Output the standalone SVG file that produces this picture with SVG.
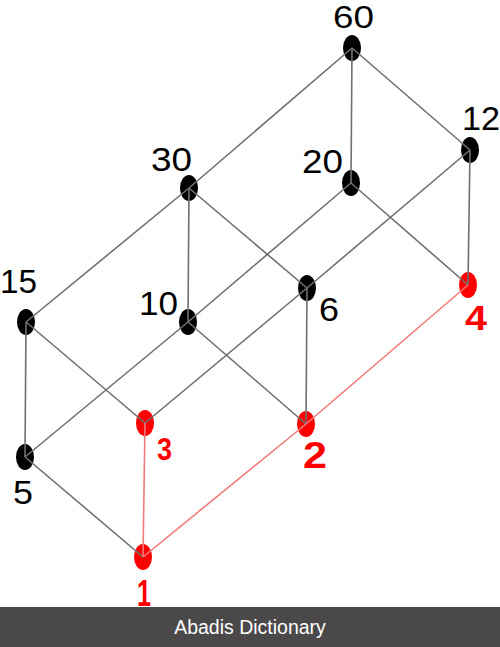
<svg xmlns="http://www.w3.org/2000/svg" width="500" height="647" viewBox="0 0 500 647">
<style>
.n{fill:#000}
.r{fill:#ff0000}
.e{stroke:#707070;stroke-width:1.6;fill:none}
.re{stroke:#f27a7a;stroke-width:1.6;fill:none}
.t{font-family:"Liberation Sans",Arial,sans-serif;font-size:33px;fill:#000}
.rt{font-family:"Liberation Sans",Arial,sans-serif;font-size:34px;font-weight:bold;fill:#ff0000}
.f{font-family:"Liberation Sans",Arial,sans-serif;font-size:19.5px;fill:#fff}
</style>
<rect width="500" height="647" fill="#fff"/>
<g id="n60"><ellipse class="n" cx="352" cy="48" rx="9" ry="13"/><text class="t" x="333" y="28" textLength="41" lengthAdjust="spacingAndGlyphs" style="font-size:31px">60</text></g>
<g id="n12"><ellipse class="n" cx="470" cy="150" rx="9" ry="13"/><text class="t" x="462" y="130" textLength="38" lengthAdjust="spacingAndGlyphs">12</text></g>
<g id="n30"><ellipse class="n" cx="189" cy="188" rx="9" ry="13"/><text class="t" x="151" y="171" textLength="41" lengthAdjust="spacingAndGlyphs">30</text></g>
<g id="n20"><ellipse class="n" cx="351" cy="183" rx="9" ry="13"/><text class="t" x="302" y="173" textLength="41" lengthAdjust="spacingAndGlyphs">20</text></g>
<g id="n15"><ellipse class="n" cx="26" cy="322" rx="9" ry="13"/><text class="t" x="0" y="293" textLength="37" lengthAdjust="spacingAndGlyphs">15</text></g>
<g id="n10"><ellipse class="n" cx="188" cy="322" rx="9" ry="13"/><text class="t" x="139" y="315" textLength="39" lengthAdjust="spacingAndGlyphs">10</text></g>
<g id="n6"><ellipse class="n" cx="307" cy="288" rx="9" ry="13"/><text class="t" x="319" y="321" textLength="20" lengthAdjust="spacingAndGlyphs">6</text></g>
<g id="n5"><ellipse class="n" cx="25" cy="457" rx="9" ry="13"/><text class="t" x="13" y="504" textLength="20" lengthAdjust="spacingAndGlyphs">5</text></g>
<g id="n4"><ellipse class="r" cx="468" cy="285" rx="9" ry="13"/><text class="rt" x="465" y="330" textLength="22" lengthAdjust="spacingAndGlyphs" style="font-size:35px">4</text></g>
<g id="n3"><ellipse class="r" cx="145" cy="423" rx="9" ry="13"/><text class="rt" x="157" y="460" textLength="15" lengthAdjust="spacingAndGlyphs" style="font-size:32px">3</text></g>
<g id="n2"><ellipse class="r" cx="306" cy="424" rx="9" ry="13"/><text class="rt" x="303" y="468" textLength="24" lengthAdjust="spacingAndGlyphs" style="font-size:37px">2</text></g>
<g id="n1"><ellipse class="r" cx="143" cy="557" rx="9" ry="13"/><text class="rt" x="137" y="606" textLength="14" lengthAdjust="spacingAndGlyphs" style="font-size:37px">1</text></g>
<g id="connectors">
<line class="e" x1="352" y1="48" x2="189" y2="188"/>
<line class="e" x1="352" y1="48" x2="351" y2="183"/>
<line class="e" x1="352" y1="48" x2="470" y2="150"/>
<line class="e" x1="189" y1="188" x2="26" y2="322"/>
<line class="e" x1="189" y1="188" x2="188" y2="322"/>
<line class="e" x1="189" y1="188" x2="307" y2="288"/>
<line class="e" x1="351" y1="183" x2="188" y2="322"/>
<line class="e" x1="351" y1="183" x2="468" y2="285"/>
<line class="e" x1="470" y1="150" x2="307" y2="288"/>
<line class="e" x1="470" y1="150" x2="468" y2="285"/>
<line class="e" x1="26" y1="322" x2="25" y2="457"/>
<line class="e" x1="26" y1="322" x2="145" y2="423"/>
<line class="e" x1="188" y1="322" x2="25" y2="457"/>
<line class="e" x1="188" y1="322" x2="306" y2="424"/>
<line class="e" x1="307" y1="288" x2="145" y2="423"/>
<line class="e" x1="307" y1="288" x2="306" y2="424"/>
<line class="e" x1="25" y1="457" x2="143" y2="557"/>
<line class="re" x1="145" y1="423" x2="143" y2="557"/>
<line class="re" x1="143" y1="557" x2="306" y2="424"/>
<line class="re" x1="306" y1="424" x2="468" y2="285"/>
</g>
<rect x="0" y="607" width="500" height="40" fill="#4b4849"/>
<text class="f" x="250" y="634" text-anchor="middle">Abadis Dictionary</text>
</svg>
